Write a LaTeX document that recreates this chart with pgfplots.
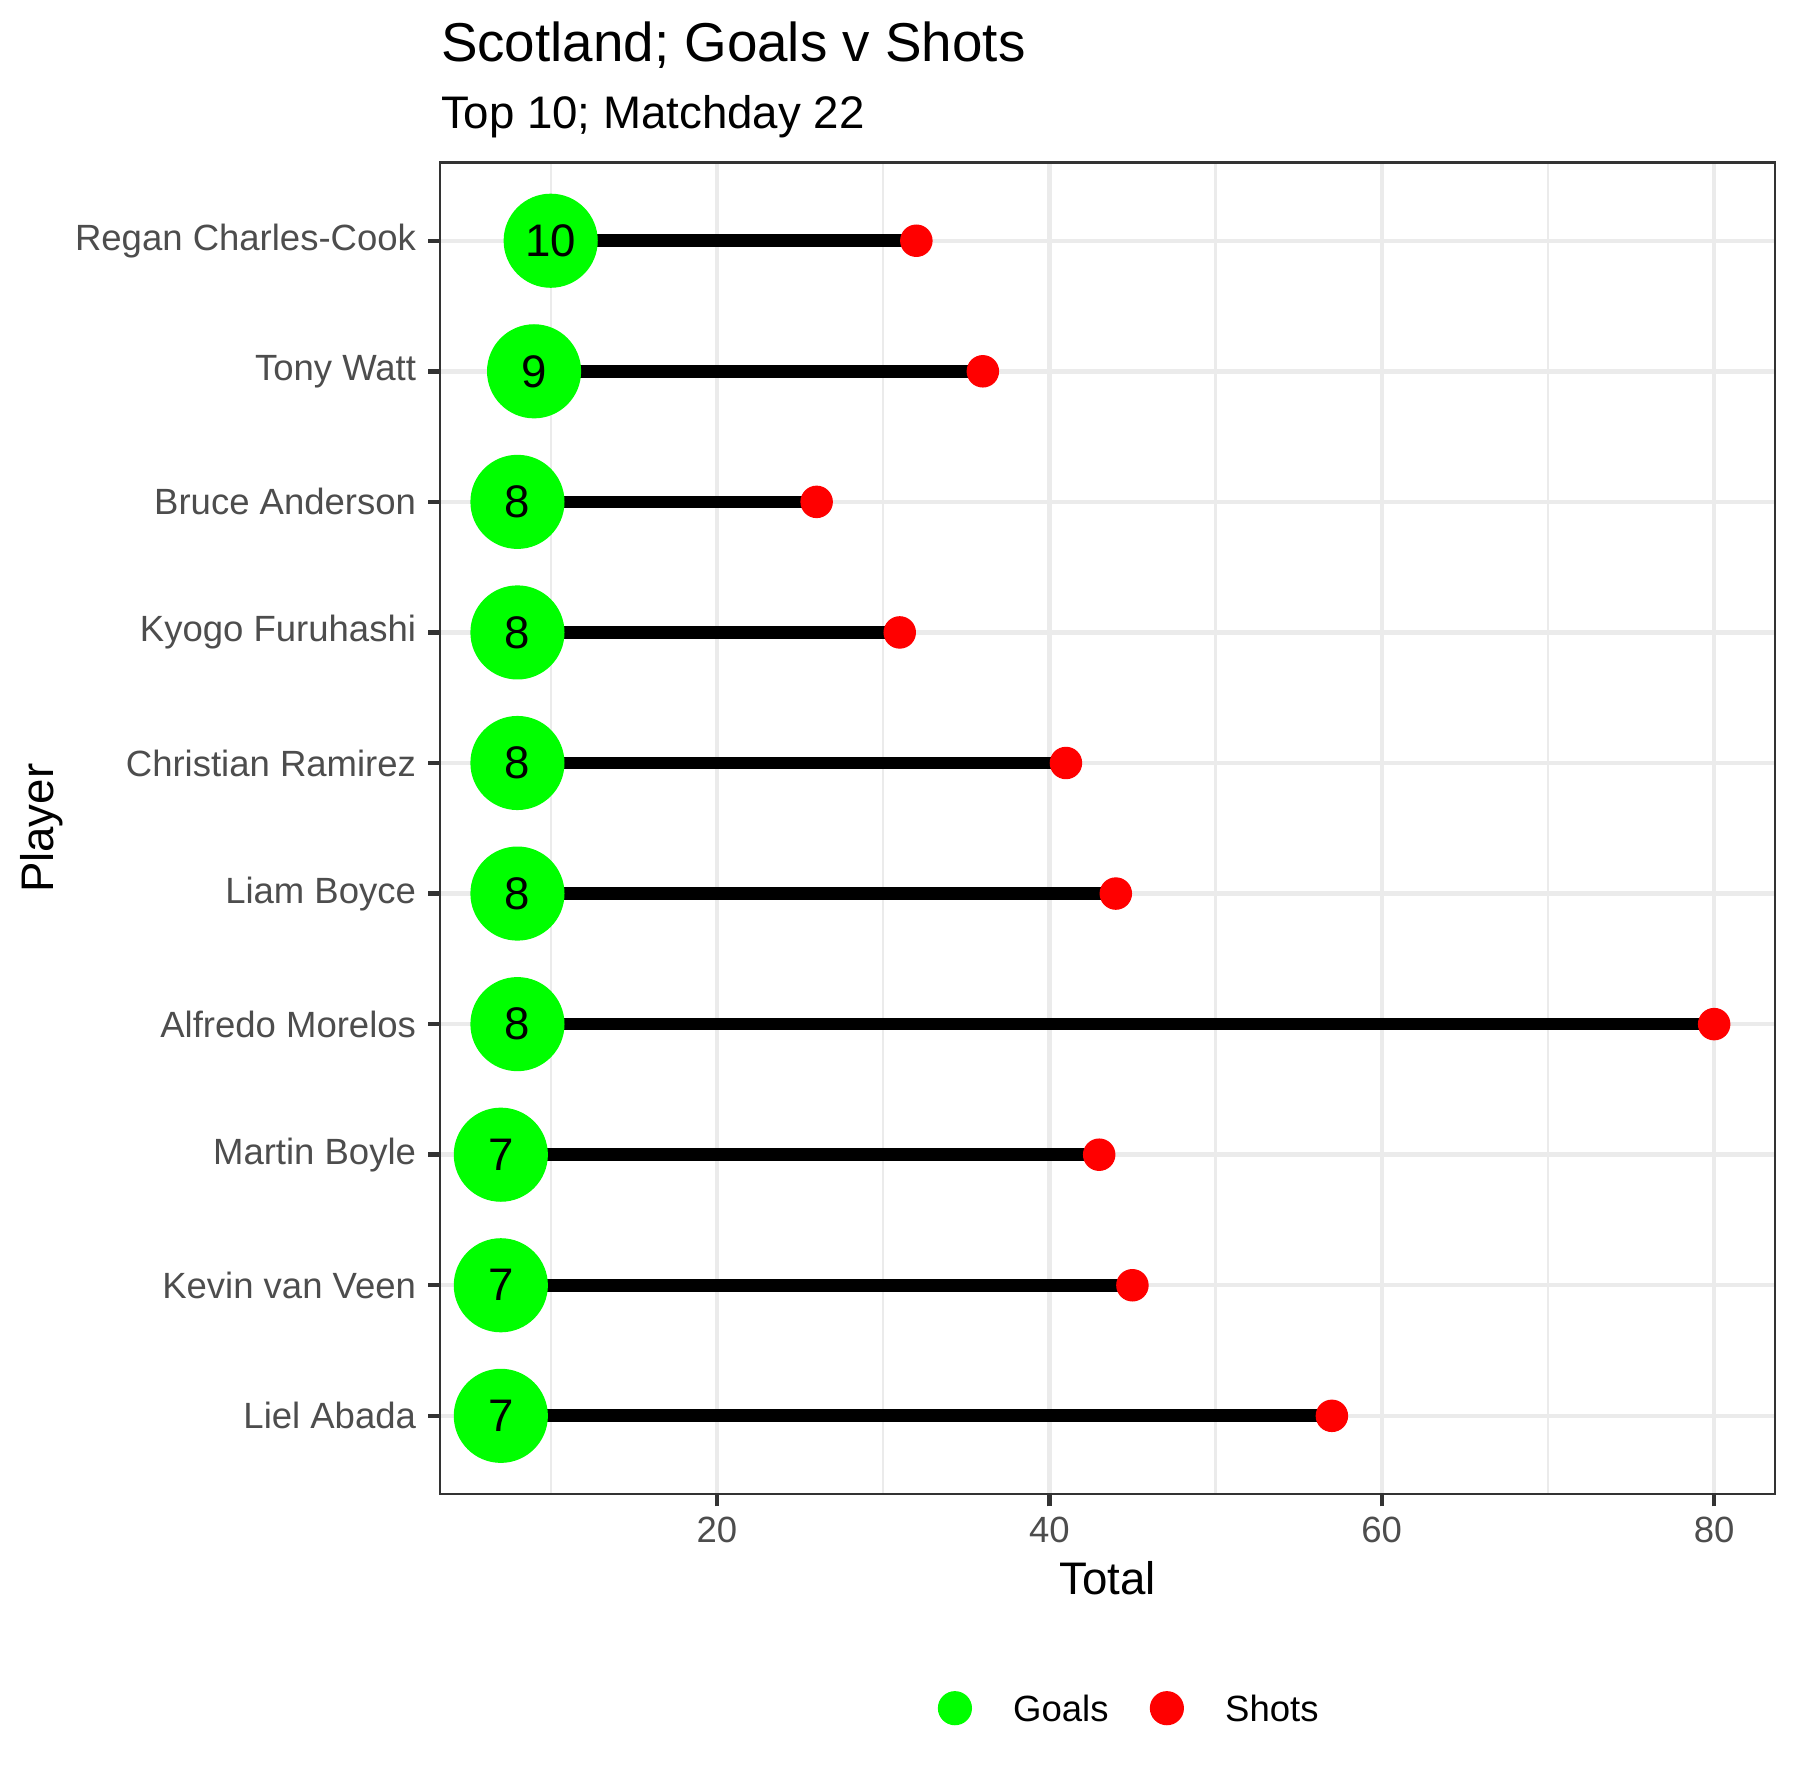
\documentclass[border=0pt]{standalone}
\usepackage{fontspec}
\setmainfont{Liberation Sans}
\usepackage{pgfplots}
\pgfplotsset{compat=1.18}
\usepackage{pgfplotstable}
\definecolor{gridc}{HTML}{EBEBEB}
\definecolor{axc}{HTML}{333333}
\definecolor{tickc}{HTML}{4D4D4D}
\definecolor{ggreen}{HTML}{00FF00}
\definecolor{gred}{HTML}{FF0000}

\pgfplotstableread{
pos goals shots
1 7 57
2 7 45
3 7 43
4 8 80
5 8 44
6 8 41
7 8 31
8 8 26
9 9 36
10 10 32
}\data

\begin{document}
\begin{tikzpicture}
\path[use as bounding box] (-105.7bp,-71.04bp) rectangle (326.3bp,358.8bp);
\begin{axis}[
  at={(0,0)}, anchor=south west, scale only axis,
  width=320.5bp, height=319.8bp,
  xmin=3.35, xmax=83.65, ymin=0.4, ymax=10.6,
  xtick={20,40,60,80}, minor xtick={10,30,50,70},
  ytick={1,2,3,4,5,6,7,8,9,10},
  yticklabels={Liel Abada, Kevin van Veen, Martin Boyle, Alfredo Morelos, Liam Boyce, Christian Ramirez, Kyogo Furuhashi, Bruce Anderson, Tony Watt, Regan Charles-Cook},
  xmajorgrids, ymajorgrids, xminorgrids,
  major grid style={gridc, line width=1.07bp},
  minor grid style={gridc, line width=0.53bp},
  axis line style={axc, line width=0.6bp},
  tick style={axc, line width=1.07bp},
  major tick length=2.9bp, minor tick length=0pt,
  tick align=outside, xtick pos=left, ytick pos=left,
  /pgf/number format/assume math mode=true,
  tick label style={font=\fontsize{8.8}{10}\selectfont, text=tickc, inner sep=0pt},
  xticklabel style={anchor=base, yshift=-8.6bp},
  yticklabel style={anchor=east, xshift=-2.7bp},
  xlabel={Total}, ylabel={Player},
  xlabel style={at={(axis description cs:0.5,0)}, anchor=base, yshift=-24.2bp, inner sep=0pt, font=\fontsize{11}{13}\selectfont},
  ylabel style={at={(axis description cs:-0.28986,0.5)}, anchor=base, inner sep=0pt, font=\fontsize{11}{13}\selectfont},
  legend columns=2,
  legend cell align=left,
  legend style={draw=none, fill=none, inner sep=0pt, outer sep=0pt,
    at={(axis description cs:0.3729,-0.1607)}, anchor=west,
    nodes={inner sep=0pt, text depth=0pt, font=\fontsize{8.8}{10}\selectfont},
    cells={anchor=west},
    /tikz/every odd column/.append style={column sep=9.9bp},
    /tikz/every even column/.append style={column sep=9.9bp}},
  every node near coord/.append style={anchor=center, inner sep=0pt, text=black, font=\fontsize{11}{13}\selectfont},
]
% segments
\addplot[black, line width=3.05bp, unbounded coords=jump, forget plot] coordinates {
 (7,1) (57,1) (nan,nan)
 (7,2) (45,2) (nan,nan)
 (7,3) (43,3) (nan,nan)
 (8,4) (80,4) (nan,nan)
 (8,5) (44,5) (nan,nan)
 (8,6) (41,6) (nan,nan)
 (8,7) (31,7) (nan,nan)
 (8,8) (26,8) (nan,nan)
 (9,9) (36,9) (nan,nan)
 (10,10) (32,10)
};
% shots
\addplot[gred, only marks, mark=*, mark size=3.75bp, mark options={draw=gred, fill=gred, line width=0.3bp}, forget plot]
  table[x=shots, y=pos] {\data};
% goals
\addplot[ggreen, only marks, mark=*, mark size=11.15bp, mark options={draw=ggreen, fill=ggreen, line width=0.3bp}, forget plot,
  point meta=explicit symbolic, nodes near coords]
  table[x=goals, y=pos, meta=goals] {\data};
\addlegendimage{legend image code/.code={\fill[ggreen] (0bp,0bp) circle (3.9bp);}}
\addlegendentry{Goals}
\addlegendimage{legend image code/.code={\fill[gred] (0bp,0bp) circle (3.9bp);}}
\addlegendentry{Shots}
\end{axis}
\node[anchor=base west, inner sep=0pt, font=\fontsize{13.2}{15}\selectfont] at (0bp,344.0bp) {Scotland; Goals v Shots};
\node[anchor=base west, inner sep=0pt, font=\fontsize{11}{13}\selectfont] at (0bp,328.0bp) {Top 10; Matchday 22};
\end{tikzpicture}
\end{document}
